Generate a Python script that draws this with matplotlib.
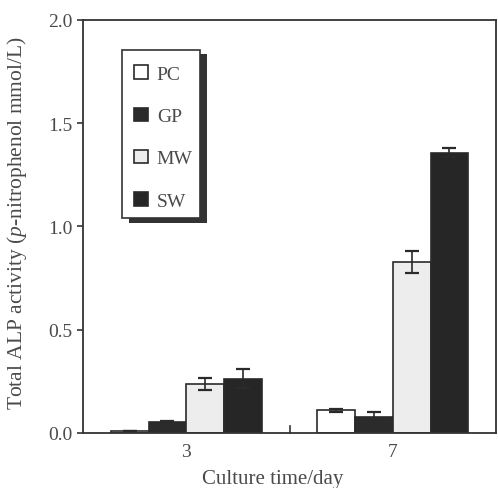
import numpy as np
import matplotlib.pyplot as plt
from matplotlib.patches import Patch, Rectangle

plt.rcParams['font.family'] = ['Liberation Serif', 'DejaVu Serif']
plt.rcParams['mathtext.fontset'] = 'custom'
plt.rcParams['mathtext.it'] = 'Liberation Serif:italic'
plt.rcParams['mathtext.rm'] = 'Liberation Serif'

# data
days = ['3', '7']
groups = ['PC', 'GP', 'MW', 'SW']
means = {
    'PC': [0.01, 0.110],
    'GP': [0.053, 0.078],
    'MW': [0.237, 0.827],
    'SW': [0.263, 1.357],
}
errs = {
    'PC': [0.0, 0.008],
    'GP': [0.004, 0.022],
    'MW': [0.030, 0.052],
    'SW': [0.045, 0.022],
}

faces = {'PC': 'white', 'GP': '#2b2b2b', 'MW': '#ededed', 'SW': '#262626'}
txt = '#4a4a4a'
dark = '#2a2a2a'

fig = plt.figure(figsize=(4.98, 4.89), dpi=100)
ax = fig.add_axes([0.167, 0.1125, 0.829, 0.845])

x = np.arange(len(days))
w = 0.183
for i, g in enumerate(groups):
    pos = x + (i - 1.5) * w
    ax.bar(pos, means[g], w, color=faces[g], edgecolor=dark, linewidth=1.2,
           yerr=errs[g], capsize=5, error_kw=dict(ecolor=dark, elinewidth=1.2, capthick=1.6),
           label=g, zorder=2)

ax.set_xlim(-0.5, 1.5)
ax.set_ylim(0, 2.0)
ax.set_yticks([0.0, 0.5, 1.0, 1.5, 2.0])
ax.set_yticklabels(['0.0', '0.5', '1.0', '1.5', '2.0'])
ax.set_xticks(x)
ax.set_xticklabels(days)
ax.tick_params(axis='x', length=0, pad=7, labelsize=14, labelcolor=txt)
ax.tick_params(axis='y', direction='out', length=4.5, width=1.2, color='#333333',
               labelsize=14, labelcolor=txt, pad=3)
# small separator tick between the two days
ax.plot([0.5, 0.5], [0, 0.035], color='#333333', lw=1.2, zorder=3, clip_on=False)

for s in ax.spines.values():
    s.set_color('#333333')
    s.set_linewidth(1.3)

ax.set_xlabel('Culture time/day', fontsize=15, color=txt)
ax.xaxis.set_label_coords(0.459, -0.087)
ax.set_ylabel('Total ALP activity ($p$-nitrophenol mmol/L)', fontsize=15.5, color=txt)
ax.yaxis.set_label_coords(-0.13, 0.51)

# legend box with an offset dark shadow
ax.add_patch(Rectangle((0.111, 0.507), 0.189, 0.411, transform=ax.transAxes,
                       facecolor='#333333', edgecolor='none', zorder=4))
ax.add_patch(Rectangle((0.094, 0.52), 0.189, 0.407, transform=ax.transAxes,
                       facecolor='white', edgecolor='#333333', linewidth=1.2, zorder=5))

handles = [Patch(facecolor=faces[g], edgecolor=dark, linewidth=1.2) for g in groups]
leg = ax.legend(handles, groups, loc='upper left', bbox_to_anchor=(0.122, 0.89),
                fontsize=14, frameon=False, handlelength=0.75, handleheight=0.7,
                handletextpad=0.45, labelspacing=1.27, borderpad=0, borderaxespad=0)
leg.set_zorder(6)
for t in leg.get_texts():
    t.set_color(txt)

fig.savefig('out.png', dpi=100)
